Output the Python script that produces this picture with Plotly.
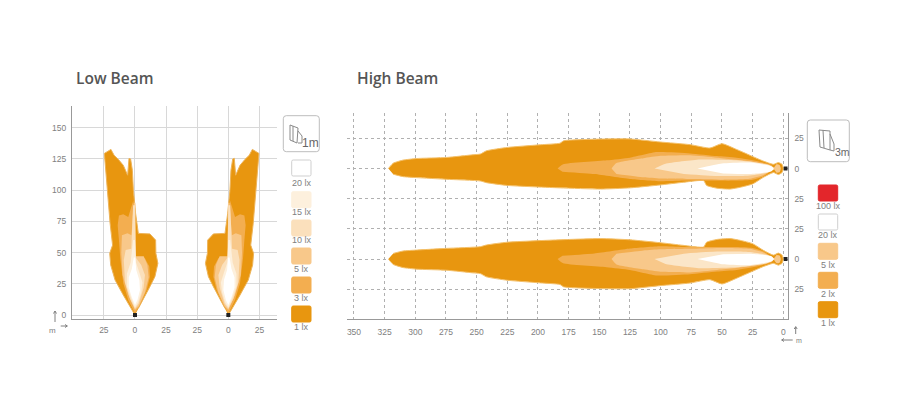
import plotly.graph_objects as go

# ---------- Data (metres) ----------
LOW_TICK_VALS_X = [-25, 0, 25, 50, 75, 100]
LOW_TICK_TEXT_X = ["25", "0", "25", "25", "0", "25"]
LOW_TICK_VALS_Y = [0, 25, 50, 75, 100, 125, 150]
LOW_RIGHT_CENTRE = 75

HIGH_TICK_VALS_X = [350, 325, 300, 275, 250, 225, 200, 175, 150, 125, 100, 75, 50, 25, 0]
HIGH_TICK_VALS_Y = [-25, 0, 25, 50, 75, 100]
HIGH_TICK_TEXT_Y = ["25", "0", "25", "25", "0", "25"]
HIGH_UPPER_CENTRE = 75

LOW_LEVELS = ["1 lx", "3 lx", "5 lx", "10 lx", "15 lx", "20 lx"]
LOW_COLORS = ["#E8960F", "#F3AE50", "#F8C88A", "#FBE0BC", "#FDF0DD", "#FFFFFF"]

LOW_X = [
    [0, -4, -9.4, -16, -19.5, -20.3, -18, -20, -22, -23.5, -24.6, -19.3, -16.8, -13.4, -9.4, -5.9, -4.8, -3.5,
     -2.1, -1.3, 0.5, 2.7, 12, 16.6, 16.8, 18.4, 16, 12, 6.7, 2.7],
    [0, -5.4, -9.4, -11.8, -12.9, -13.9, -12.9, -9.4, -5.4, -1.3, -0.5, 0.5, 8, 11.5, 12, 9.4, 4],
    [0, -5.4, -10, -11, -10.5, -6, -2.8, -1, 0.3, 0.6, 7, 10, 11, 8, 3],
    [0, -4, -8, -9, -7.5, -3, -1.5, 0, 0.6, 5, 8, 7, 3],
    [0, -3, -6.5, -6.5, -3.5, -1.5, 0, 0.8, 3.5, 6, 5, 2.5],
    [0, -2.5, -5, -5, -2.5, -1, 0.2, 1, 3.5, 4, 2],
]
LOW_Y = [
    [0, 6.7, 16, 28, 40, 49.4, 56, 73.5, 100, 116, 129.5, 132.7, 128, 124.7, 120, 112, 125.5, 125,
     116, 100, 81.5, 65.4, 65, 60, 49.4, 41.4, 30.7, 22.7, 13.4, 5.3],
    [1.3, 12, 25.4, 45.5, 60, 72, 79.7, 80.7, 78.6, 92, 80, 45.5, 45.5, 38.8, 30.7, 20, 8],
    [4, 16, 32, 50, 64, 65.5, 64, 90, 90, 47, 47, 40, 30, 18, 7],
    [5, 13, 26, 44, 52, 53, 88, 88, 46, 40, 32, 22, 9],
    [6, 13, 23, 33, 42, 60, 60, 42, 34, 26, 18, 10],
    [8, 14, 22, 30, 37, 46, 46, 36, 28, 20, 12],
]

HIGH_COLORS = ["#E8960F", "#F3AE50", "#F8C88A", "#FBE6C8", "#FFFFFF"]
HIGH_X = [
    [322, 318, 310, 299, 274.5, 253, 247, 242, 225, 198, 182, 179, 149, 125, 100.5, 76, 59.8, 50, 38, 27, 16.3, 8, 4, 1, 0,
     1, 4, 8, 16.3, 25, 35, 43.4, 54, 62.5, 65, 81.6, 100.5, 125, 149, 182, 225, 242, 247, 274.5, 299, 310, 318],
    [184, 179.5, 144, 125, 103, 76, 54, 38, 21.7, 9.5, 8, 16.3, 25, 38, 62.5, 81.6, 100, 125, 154, 180],
    [140, 136, 114, 100, 76, 54, 27, 9.5, 8, 16.3, 27, 49, 73, 100, 114, 136],
    [105, 96, 68, 38, 13.4, 7, 13.4, 30, 54, 81],
    [70, 50, 27, 10, 7.5, 10, 27, 49],
]
HIGH_Y = [
    [0, 4.4, 7, 8.3, 9.2, 11.4, 12, 14.7, 17.5, 19.7, 21, 23, 24.4, 24.5, 22, 19.8, 17, 20.6, 15.8, 10.9, 6.2, 3.5, 5, 3.5, 0,
     -3.3, -5, -3.3, -7.3, -12.8, -15.5, -17, -16.3, -14, -10, -11.4, -13.6, -16, -17, -16, -14, -11.7, -10.3, -8.9, -7.5, -6.7, -4.7],
    [0, 3.5, 6.8, 9, 13.6, 12.5, 10.3, 9, 6.2, 2.7, 0, -6.5, -9.2, -10, -10, -10, -10.6, -8.7, -4.6, -2.7],
    [0, 4.5, 8.5, 10.5, 11, 9, 6, 2, 0, -5.4, -8.5, -9.2, -8.6, -8.2, -7.2, -4.5],
    [0, 4, 7.5, 6.8, 3.5, 0, -3.5, -6, -6.2, -4.5],
    [0, 4.2, 5, 2, 0, -2.5, -4.5, -4],
]
HIGH_BULB_X = [8, 5.5, 3, 2, 3, 5.5]
HIGH_BULB_Y = [0, 3.5, 3, 0, -3, -3.5]

LOW_LEGEND = ["20 lx", "15 lx", "10 lx", "5 lx", "3 lx", "1 lx"]
LOW_LEGEND_COLORS = ["#FFFFFF", "#FDF0DD", "#FBE0BC", "#F8C88A", "#F3AE50", "#E8960F"]
HIGH_LEGEND = ["100 lx", "20 lx", "5 lx", "2 lx", "1 lx"]
HIGH_LEGEND_COLORS = ["#E3262B", "#FFFFFF", "#F8C88A", "#F3AE50", "#E8960F"]

# ---------- Layout constants ----------
W, H = 900, 410
GREY = "#808080"
FONT = "Liberation Sans, Arial, sans-serif"


def px(x):
    return x / W


def py(y):
    return 1 - y / H


def rounded(x0, y0, x1, y1, r, line, fill, width=1):
    p = (f"M {px(x0 + r)} {py(y0)} L {px(x1 - r)} {py(y0)} Q {px(x1)} {py(y0)} {px(x1)} {py(y0 + r)} "
         f"L {px(x1)} {py(y1 - r)} Q {px(x1)} {py(y1)} {px(x1 - r)} {py(y1)} "
         f"L {px(x0 + r)} {py(y1)} Q {px(x0)} {py(y1)} {px(x0)} {py(y1 - r)} "
         f"L {px(x0)} {py(y0 + r)} Q {px(x0)} {py(y0)} {px(x0 + r)} {py(y0)} Z")
    return dict(type="path", path=p, xref="paper", yref="paper", fillcolor=fill,
                line=dict(color=line, width=width), layer="above")


def poly(points, color="#8a8a8a", width=1):
    p = "M " + " L ".join(f"{px(a)} {py(b)}" for a, b in points)
    return dict(type="path", path=p, xref="paper", yref="paper",
                line=dict(color=color, width=width), layer="above")


def text(x, y, s, size=9, color=GREY, family=FONT, weight=None, anchor="center"):
    f = dict(size=size, color=color, family=family)
    if weight:
        f["weight"] = weight
    return dict(x=px(x), y=py(y), xref="paper", yref="paper", text=s, showarrow=False,
                font=f, xanchor=anchor, yanchor="middle", borderpad=0)


fig = go.Figure()


def area(x, y, color, xa, ya, edge=None, w=0, smooth=False):
    line = dict(color=edge or color, width=w)
    if smooth:
        line.update(shape="spline", smoothing=0.5)
    fig.add_trace(go.Scatter(x=x, y=y, mode="lines", fill="toself", fillcolor=color,
                             line=line, xaxis=xa, yaxis=ya,
                             hoverinfo="skip", showlegend=False))


# Low beam, left lobe and its mirror image around the right lamp
for i, c in enumerate(LOW_COLORS):
    edge, w = ("#EDB45A", 1) if i == 0 else (None, 0)
    area(LOW_X[i], LOW_Y[i], c, "x", "y", edge, w)
for i, c in enumerate(LOW_COLORS):
    edge, w = ("#EDB45A", 1) if i == 0 else (None, 0)
    area([LOW_RIGHT_CENTRE - v for v in LOW_X[i]], LOW_Y[i], c, "x", "y", edge, w)
fig.add_trace(go.Scatter(x=[0, LOW_RIGHT_CENTRE], y=[0, 0], mode="markers", xaxis="x", yaxis="y",
                         marker=dict(color="#222222", size=4, symbol="square"),
                         hoverinfo="skip", showlegend=False))

# High beam, upper lobe and its vertical mirror image below
for centre, sign in ((HIGH_UPPER_CENTRE, 1), (0, -1)):
    for i, c in enumerate(HIGH_COLORS):
        edge, w = ("#F4C06A", 1) if i == 0 else (None, 0)
        area(HIGH_X[i], [centre + sign * v for v in HIGH_Y[i]], c, "x2", "y2", edge, w, smooth=True)
    area(HIGH_BULB_X, [centre + sign * v for v in HIGH_BULB_Y], HIGH_COLORS[2], "x2", "y2", smooth=True)
fig.add_trace(go.Scatter(x=[-2, -2], y=[0, HIGH_UPPER_CENTRE], mode="markers", xaxis="x2", yaxis="y2",
                         marker=dict(color="#222222", size=4, symbol="square"),
                         hoverinfo="skip", showlegend=False))

tick_font = dict(size=8.5, color=GREY, family=FONT)
fig.update_layout(
    width=W, height=H, autosize=False, margin=dict(l=0, r=0, t=0, b=0),
    paper_bgcolor="white", plot_bgcolor="white", showlegend=False,
    xaxis=dict(domain=[px(72), px(277)], range=[-50.6, 114.1], anchor="y",
               tickmode="array", tickvals=LOW_TICK_VALS_X, ticktext=LOW_TICK_TEXT_X,
               showgrid=True, gridcolor="#D8D8D8", gridwidth=1, zeroline=False,
               showline=True, linecolor="#999999", linewidth=1, ticks="", tickfont=tick_font,
               ticklabelstandoff=3),
    yaxis=dict(domain=[py(319), py(105.7)], range=[-3.2, 167.7], anchor="x",
               tickmode="array", tickvals=LOW_TICK_VALS_Y,
               showgrid=True, gridcolor="#D8D8D8", gridwidth=1, zeroline=False,
               showline=True, linecolor="#999999", linewidth=1, ticks="", tickfont=tick_font,
               ticklabelstandoff=3),
    xaxis2=dict(domain=[px(347), px(787.7)], range=[355.7, -3.6], anchor="y2",
                tickmode="array", tickvals=HIGH_TICK_VALS_X,
                showgrid=True, gridcolor="#B0B0B0", griddash="dot", gridwidth=1, zeroline=False,
                showline=True, linecolor="#999999", linewidth=1, ticks="", tickfont=tick_font,
                ticklabelstandoff=5),
    yaxis2=dict(domain=[py(319), py(113)], range=[-49.6, 121], anchor="x2", side="right",
                tickmode="array", tickvals=HIGH_TICK_VALS_Y, ticktext=HIGH_TICK_TEXT_Y,
                showgrid=True, gridcolor="#B0B0B0", griddash="dot", gridwidth=1, zeroline=False,
                showline=True, linecolor="#999999", linewidth=1, ticks="", tickfont=tick_font,
                ticklabelstandoff=4),
)

shapes = []
annots = [
    text(75, 78.5, "Low Beam", size=15.5, color="#555555", family="Open Sans, sans-serif", weight=600, anchor="left"),
    text(356, 78.5, "High Beam", size=15.5, color="#555555", family="Open Sans, sans-serif", weight=600, anchor="left"),
    text(52, 330, "m", size=8),
    text(798.7, 340, "m", size=7),
]

# Small direction arrows beside the axes
ARROW = "#808080"
shapes.extend([
    poly([(55, 322), (55, 311)], ARROW), poly([(53.5, 313.5), (55, 311), (56.5, 313.5)], ARROW),
    poly([(60.7, 326), (67.3, 326)], ARROW), poly([(65, 324.5), (67.3, 326), (65, 327.5)], ARROW),
    poly([(795.7, 334), (795.7, 326.7)], ARROW), poly([(794.2, 329), (795.7, 326.7), (797.2, 329)], ARROW),
    poly([(792.7, 340), (781.7, 340)], ARROW), poly([(784, 338.5), (781.7, 340), (784, 341.5)], ARROW),
])

# Low beam legend
low_tops = [160, 191.7, 220, 248, 277, 306]
low_label_y = [182.7, 211.7, 240.3, 269, 298.3, 327.3]
for t, ly, s, c in zip(low_tops, low_label_y, LOW_LEGEND, LOW_LEGEND_COLORS):
    edge = "#CFCFCF" if c == "#FFFFFF" else c
    shapes.append(rounded(291.7, t, 311, t + 16, 1.5, edge, c))
    annots.append(text(301.7, ly, s))

# High beam legend
high_tops = [185, 214, 243.3, 272.3, 301.7]
high_label_y = [206.3, 235.3, 264.7, 293.7, 323]
for t, ly, s, c in zip(high_tops, high_label_y, HIGH_LEGEND, HIGH_LEGEND_COLORS):
    edge = "#CFCFCF" if c == "#FFFFFF" else c
    shapes.append(rounded(818.3, t, 837.7, t + 16, 1.5, edge, c))
    annots.append(text(828, ly, s))

# Mounting-height icons
shapes.append(rounded(283.3, 115.7, 319.3, 151.7, 3, "#BDBDBD", "white"))
shapes.append(poly([(290, 125), (290, 140), (297, 143), (298, 128), (290, 125)]))
shapes.append(poly([(293, 126), (293, 141)]))
shapes.append(poly([(298, 131), (302, 136), (302, 143), (298, 143)]))
annots.append(text(310, 142.5, "1m", size=12, color="#666666"))

shapes.append(rounded(807.3, 120, 849.3, 161.7, 3, "#BDBDBD", "white"))
shapes.append(poly([(819, 130), (820, 147), (830, 150), (830, 131), (819, 130)]))
shapes.append(poly([(823, 130), (824, 148)]))
shapes.append(poly([(830, 134), (834, 144), (834, 151), (830, 150)]))
annots.append(text(842, 152, "3m", size=10.5, color="#666666"))

fig.update_layout(shapes=shapes, annotations=annots)
fig.write_html("out.html", post_script="document.body.style.margin='0';",
               config=dict(displayModeBar=False))
